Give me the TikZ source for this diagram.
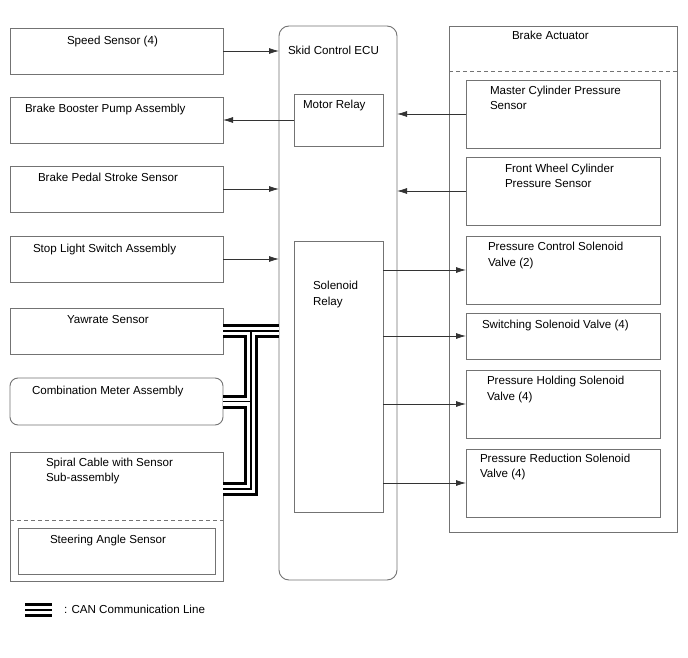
\documentclass[tikz,border=0pt]{standalone}
\usepackage{fontspec}
\setmainfont{Liberation Sans}
\usetikzlibrary{arrows.meta}
\begin{document}
\begin{tikzpicture}[x=1pt,y=-1pt,
 box/.style={draw=black!55, line width=0.9pt, inner sep=0pt, outer sep=0pt},
 txt/.style={anchor=base west, inner sep=0pt, outer sep=0pt, font=\fontsize{11.6}{14}\selectfont},
 sig/.style={draw=black!80, line width=0.8pt, -{Latex[length=10pt,width=6pt]}},
 canA/.style={line width=14pt, black, line join=miter},
 canB/.style={line width=8pt, white, line join=miter},
 canC/.style={line width=1.4pt, black, line join=miter},
 dsh/.style={draw=black!55, line width=0.8pt, dash pattern=on 4pt off 3pt}]
\useasboundingbox[fill=white] (0,0) rectangle (688,658);

% left column
\node[box, minimum width=213pt, minimum height=46pt] (speed) at (116.5,51) {};
\node[box, minimum width=213pt, minimum height=46pt] (booster) at (116.5,120) {};
\node[box, minimum width=213pt, minimum height=46pt] (pedal) at (116.5,189) {};
\node[box, minimum width=213pt, minimum height=46pt] (stop) at (116.5,259) {};
\node[box, minimum width=213pt, minimum height=46pt] (yaw) at (116.5,331) {};
\node[box, rounded corners=8pt, minimum width=213pt, minimum height=47pt] (combo) at (116.5,401.5) {};
\node[box, minimum width=213pt, minimum height=129pt] (spiral) at (116.5,516.5) {};
\node[box, minimum width=197pt, minimum height=46pt] (steer) at (116.5,551) {};
\draw[dsh] (spiral.west |- 0,520) coordinate (sd1) -- (spiral.east |- 0,520) coordinate (sd2);

\node[txt] (tspeed) at (67,45) {Speed Sensor (4)};
\node[txt] (tbooster) at (25,113) {Brake Booster Pump Assembly};
\node[txt] (tpedal) at (38,182) {Brake Pedal Stroke Sensor};
\node[txt] (tstop) at (33,252) {Stop Light Switch Assembly};
\node[txt] (tyaw) at (67,323) {Yawrate Sensor};
\node[txt] (tcombo) at (32,394) {Combination Meter Assembly};
\node[txt] (tspiral1) at (46,466) {Spiral Cable with Sensor};
\node[txt] (tspiral2) at (46,481) {Sub-assembly};
\node[txt] (tsteer) at (50,543) {Steering Angle Sensor};

% ECU
\node[box, rounded corners=10pt, minimum width=118pt, minimum height=554pt] (ecu) at (338,303) {};
\node[box, minimum width=89pt, minimum height=52pt] (motor) at (338.5,120) {};
\node[box, minimum width=89pt, minimum height=271pt] (sol) at (338.5,376.5) {};
\node[txt] (tecu) at (288,55) {Skid Control ECU};
\node[txt] (tmotor) at (303,109) {Motor Relay};
\node[txt] (tsol1) at (313,289) {Solenoid};
\node[txt] (tsol2) at (313,305) {Relay};

% Brake actuator
\node[box, minimum width=228pt, minimum height=506pt] (act) at (563,279) {};
\draw[dsh] (act.west |- 0,71) coordinate (ad1) -- (act.east |- 0,71) coordinate (ad2);
\node[txt] (tact) at (512,40) {Brake Actuator};
\node[box, minimum width=194pt, minimum height=68pt] (master) at (563,114) {};
\node[box, minimum width=194pt, minimum height=68pt] (front) at (563,191) {};
\node[box, minimum width=194pt, minimum height=68pt] (pcv) at (563,270) {};
\node[box, minimum width=194pt, minimum height=46pt] (ssv) at (563,336) {};
\node[box, minimum width=194pt, minimum height=68pt] (phv) at (563,404) {};
\node[box, minimum width=194pt, minimum height=68pt] (prv) at (563,483) {};
\node[txt] (tmaster1) at (490,95) {Master Cylinder Pressure};
\node[txt] (tmaster2) at (490,110) {Sensor};
\node[txt] (tfront1) at (505,172) {Front Wheel Cylinder};
\node[txt] (tfront2) at (505,187) {Pressure Sensor};
\node[txt] (tpcv1) at (488,250) {Pressure Control Solenoid};
\node[txt] (tpcv2) at (488,266) {Valve (2)};
\node[txt] (tssv) at (482,328) {Switching Solenoid Valve (4)};
\node[txt] (tphv1) at (487,384) {Pressure Holding Solenoid};
\node[txt] (tphv2) at (487,400) {Valve (4)};
\node[txt] (tprv1) at (480,462) {Pressure Reduction Solenoid};
\node[txt] (tprv2) at (480,477) {Valve (4)};

% signal arrows
\draw[sig] (speed.east) -- (speed.east -| ecu.west);
\draw[sig] (motor.west) -- (booster.east);
\draw[sig] (pedal.east) -- (pedal.east -| ecu.west);
\draw[sig] (stop.east) -- (stop.east -| ecu.west);
\draw[sig] (master.west) -- (master.west -| ecu.east);
\draw[sig] (front.west) -- (front.west -| ecu.east);
\draw[sig] (sol.east |- pcv.west) -- (pcv.west);
\draw[sig] (sol.east |- ssv.west) -- (ssv.west);
\draw[sig] (sol.east |- phv.west) -- (phv.west);
\draw[sig] (sol.east |- prv.west) -- (prv.west);

% CAN lines
\path (yaw.east) ++(28,0) coordinate (j1);
\path (spiral.north east) ++(0,37) coordinate (sp);
\foreach \lay in {canA,canB,canC}{
  \draw[\lay] (yaw.east) -- (yaw.east -| ecu.west);
  \draw[\lay] (j1) -- (j1 |- sp) -- (sp);
  \draw[\lay] (j1 |- combo.east) -- (combo.east);
}

% legend
\coordinate (l1) at (25,610);
\coordinate (l2) at (52,610);
\foreach \lay in {canA,canB,canC}{
  \draw[\lay] (l1) -- (l2);
}
\node[txt] (tleg) at (64,613) {: CAN Communication Line};
\end{tikzpicture}
\end{document}
